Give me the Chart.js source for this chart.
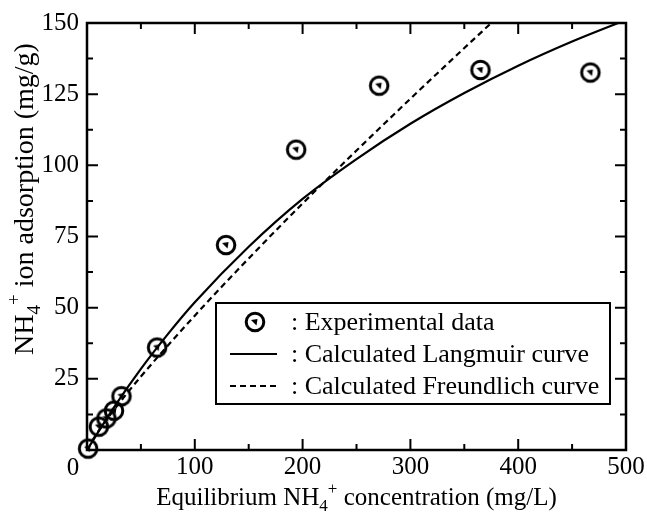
<!DOCTYPE html>
<html>
<head>
<meta charset="utf-8">
<script src="https://cdn.jsdelivr.net/npm/chart.js@4.4.1/dist/chart.umd.min.js"></script>
<style>
  html, body { margin: 0; padding: 0; background: #fff; }
</style>
</head>
<body>
<canvas id="isoterma" width="647" height="513"></canvas>
<script>
// valori
const expX = [1, 11, 18, 25, 32, 65, 129, 194, 271, 365, 467];
const expY = [0.5, 8.2, 11.1, 13.8, 18.9, 36, 72, 105.5, 128, 133.5, 132.6];

const langX = [0, 25, 50, 75, 100, 150, 200, 250, 300, 350, 400, 450, 500];
const langY = [0, 15.0, 28.5, 40.7, 51.9, 71.4, 88.2, 102.2, 114.6, 125.4, 135.0, 143.5, 151.1];

const freX = [5, 10, 25, 50, 100, 150, 200, 250, 300, 350, 375];
const freY = [3.4, 6.3, 14.1, 25.8, 47.2, 67.3, 86.6, 105.2, 123.4, 141.2, 150];

const xTicks = [0, 100, 200, 300, 400, 500];
const yTicks = [0, 25, 50, 75, 100, 125, 150];
const xMinor = 50;
const yMinor = 12.5;

const legendLabels = [': Experimental data', ': Calculated Langmuir curve', ': Calculated Freundlich curve'];

const FONT = "'Liberation Serif', 'Times New Roman', serif";

function makeMarker() {
    const m = document.createElement('canvas');
    m.width = 26; m.height = 26;
    const g = m.getContext('2d');
    g.strokeStyle = '#000';
    g.fillStyle = '#000';
    g.lineWidth = 3;
    g.beginPath();
    g.arc(13, 13, 8.8, 0, Math.PI * 2);
    g.stroke();
    g.beginPath();
    g.moveTo(9, 11);
    g.lineTo(15.5, 10);
    g.lineTo(14.5, 16.5);
    g.closePath();
    g.fill();
    return m;
}
const marker = makeMarker();

const pts = (xs, ys) => xs.map((x, i) => ({ x: x, y: ys[i] }));

// testo con pedici / apici
function richText(g, parts, x, y, size) {
    let cx = x;
    parts.forEach(p => {
        let s = size, dy = 0;
        if (p.sub) { s = size * 0.68; dy = size * 0.25; }
        if (p.sup) { s = size * 0.68; dy = -size * 0.45; }
        g.font = s + 'px ' + FONT;
        g.fillText(p.t, cx, y + dy);
        cx += g.measureText(p.t).width;
    });
    return cx - x;
}
function richWidth(g, parts, size) {
    let w = 0;
    parts.forEach(p => {
        const s = (p.sub || p.sup) ? size * 0.68 : size;
        g.font = s + 'px ' + FONT;
        w += g.measureText(p.t).width;
    });
    return w;
}

const xTitle = [{ t: 'Equilibrium NH' }, { t: '4', sub: true }, { t: '+', sup: true }, { t: ' concentration (mg/L)' }];
const yTitle = [{ t: 'NH' }, { t: '4', sub: true }, { t: '+', sup: true }, { t: ' ion adsorption (mg/g)' }];

const cornice = {
    id: 'cornice',
    beforeDatasetsDraw(chart) {
        const g = chart.ctx;
        const a = chart.chartArea;
        const sx = chart.scales.x, sy = chart.scales.y;
        g.save();
        g.strokeStyle = '#000';
        g.lineWidth = 2.5;
        g.strokeRect(a.left, a.top, a.right - a.left, a.bottom - a.top);

        // tacche interne
        g.lineWidth = 2;
        g.beginPath();
        for (let v = sx.min + xMinor; v < sx.max; v += xMinor) {
            const p = sx.getPixelForValue(v);
            const len = (v % 100 === 0) ? 11 : 6;
            g.moveTo(p, a.bottom); g.lineTo(p, a.bottom - len);
            g.moveTo(p, a.top); g.lineTo(p, a.top + len);
        }
        for (let v = sy.min + yMinor; v < sy.max; v += yMinor) {
            const p = sy.getPixelForValue(v);
            const len = (v % 25 === 0) ? 11 : 6;
            g.moveTo(a.left, p); g.lineTo(a.left + len, p);
            g.moveTo(a.right, p); g.lineTo(a.right - len, p);
        }
        g.stroke();
        g.restore();
    },
    afterDraw(chart) {
        const g = chart.ctx;
        const a = chart.chartArea;
        g.save();
        g.fillStyle = '#000';
        g.strokeStyle = '#000';

        // "0" all'origine
        g.font = '25px ' + FONT;
        g.textAlign = 'center';
        g.textBaseline = 'middle';
        g.fillText('0', a.left - 14, a.bottom + 18);

        // titoli assi
        g.textAlign = 'left';
        g.textBaseline = 'alphabetic';
        const wx = richWidth(g, xTitle, 25);
        richText(g, xTitle, (a.left + a.right) / 2 - wx / 2, 505, 25);

        g.save();
        g.translate(33, 199);
        g.rotate(-Math.PI / 2);
        const wy = richWidth(g, yTitle, 28);
        richText(g, yTitle, -wy / 2, 0, 28);
        g.restore();

        // legenda
        const bx = 216, by = 303, bw = 394, bh = 101;
        g.fillStyle = '#fff';
        g.fillRect(bx, by, bw, bh);
        g.fillStyle = '#000';
        g.lineWidth = 2;
        g.strokeRect(bx, by, bw, bh);
        const rows = [322, 354, 386];
        g.drawImage(marker, 255 - 13, rows[0] - 13);
        g.lineWidth = 2.2;
        g.beginPath(); g.moveTo(230, rows[1]); g.lineTo(277, rows[1]); g.stroke();
        g.setLineDash([6, 4]);
        g.beginPath(); g.moveTo(230, rows[2]); g.lineTo(277, rows[2]); g.stroke();
        g.setLineDash([]);
        g.font = '26px ' + FONT;
        g.textBaseline = 'middle';
        legendLabels.forEach((t, i) => g.fillText(t, 291, rows[i] + 1));
        g.restore();
    }
};

const ctx = document.getElementById('isoterma').getContext('2d');

new Chart(ctx, {
    type: 'scatter',
    data: {
        datasets: [
            {
                label: 'Experimental data',
                data: pts(expX, expY),
                pointStyle: marker,
                showLine: false,
                clip: false,
                order: 0
            },
            {
                label: 'Calculated Langmuir curve',
                data: pts(langX, langY),
                showLine: true,
                borderColor: '#000',
                borderWidth: 2.2,
                pointRadius: 0,
                cubicInterpolationMode: 'monotone',
                order: 1
            },
            {
                label: 'Calculated Freundlich curve',
                data: pts(freX, freY),
                showLine: true,
                borderColor: '#000',
                borderWidth: 2.2,
                borderDash: [6, 4],
                pointRadius: 0,
                cubicInterpolationMode: 'monotone',
                order: 2
            }
        ]
    },
    options: {
        responsive: false,
        animation: false,
        layout: { padding: { top: 22, right: 21, left: 0, bottom: 0 } },
        plugins: {
            legend: { display: false },
            tooltip: { enabled: false }
        },
        scales: {
            x: {
                type: 'linear',
                min: 0, max: 500,
                afterBuildTicks: s => { s.ticks = xTicks.map(v => ({ value: v })); },
                afterFit: s => { s.height = 63; },
                grid: { display: false, drawTicks: false },
                border: { display: false },
                ticks: {
                    color: '#000',
                    font: { family: FONT, size: 25 },
                    padding: 2,
                    maxRotation: 0,
                    autoSkip: false,
                    callback: v => v === 0 ? '' : v
                }
            },
            y: {
                min: 0, max: 150,
                afterBuildTicks: s => { s.ticks = yTicks.map(v => ({ value: v })); },
                afterFit: s => { s.width = 87; },
                grid: { display: false, drawTicks: false },
                border: { display: false },
                ticks: {
                    color: '#000',
                    font: { family: FONT, size: 25 },
                    padding: 8,
                    autoSkip: false,
                    callback: v => v === 0 ? '' : v
                }
            }
        }
    },
    plugins: [cornice]
});
</script>
</body>
</html>
